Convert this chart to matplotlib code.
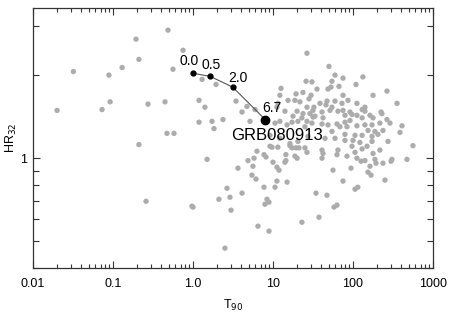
import matplotlib
matplotlib.use("Agg")
import matplotlib.pyplot as plt
from matplotlib.ticker import LogLocator, NullFormatter

plt.rcParams["font.family"] = ["Liberation Sans", "DejaVu Sans"]

# burst sample: T90 (s) and hardness ratio HR32
t90 = [
    0.020, 0.032, 0.073, 0.092, 0.089, 0.130, 0.194, 0.211, 0.211, 0.274,
    0.259, 0.447, 0.473, 0.579, 0.487, 0.562, 0.75, 0.97, 1.30, 1.94,
    1.19, 1.41, 1.19, 1.73, 1.83, 2.37, 1.50, 3.45, 4.10, 4.73,
    5.96, 5.16, 1.00, 2.11, 2.90, 2.99, 2.51, 2.66, 3.65, 4.10,
    4.87, 5.79, 5.62, 6.31, 7.72, 8.18, 5.46, 6.13, 7.72, 6.49,
    8.91, 8.41, 8.91, 7.94, 9.17, 10.6, 11.2, 11.2, 11.9, 10.0,
    15.0, 14.1, 11.5, 14.5, 14.5, 16.3, 17.3, 19.4, 21.1, 18.8,
    20.0, 26.6, 23.0, 34.5, 37.6, 47.3, 57.9, 63.1, 56.2, 75,
    94.4, 106, 115, 126, 154, 168, 163, 194, 251, 299,
    562, 387, 274, 307, 473, 410, 355, 266, 178, 133,
    109, 75, 59.6, 54.6, 50.1, 26.6, 25.9, 30.7, 66.8, 53.1,
    35.5, 23.7, 29.9, 75, 19.4, 48.7, 86.6, 21.7, 26.6, 38.7,
    47.3, 54.6, 72.9, 112, 130, 31.6, 41.0, 23.0, 29.0, 31.6,
    75, 79.4, 91.7, 112, 163, 178, 217, 266, 230, 141,
    15.4, 11.2, 12.2, 18.8, 12.6, 14.1, 20.0, 23.7, 51.6, 64.9,
    97.2, 17.8, 33.5, 42.2, 91.7, 130, 12.2, 17.3, 20.5, 26.6,
    30.7, 41.0, 48.7, 63.1, 79.4, 84.1, 112, 141, 173, 290,
    10.6, 15.0, 25.1, 68.7, 154, 188, 237, 54.6, 79.4, 106,
    130, 173, 205, 9.17, 12.2, 16.3, 20.5, 27.4, 44.7, 59.6,
    79.4, 100, 122, 173, 41.0, 64.9, 97.2, 150, 178, 217,
    9.72, 41.0, 63.1, 84.1, 112, 141, 188, 237, 106, 130,
    42.2, 25.1, 32.5, 59.6, 46.0, 141, 224, 28.2, 11.5,
]
hr32 = [
    1.49, 2.06, 1.50, 1.60, 2.00, 2.13, 2.70, 2.28, 1.12, 1.57,
    0.698, 1.60, 1.23, 1.23, 2.91, 2.10, 2.46, 0.67, 1.93, 1.85,
    1.62, 1.53, 1.35, 1.36, 1.28, 1.38, 0.99, 1.61, 1.47, 1.54,
    1.50, 1.36, 0.665, 0.71, 0.722, 0.648, 0.472, 0.778, 0.92, 0.747,
    0.98, 1.00, 0.935, 1.06, 1.03, 1.01, 0.868, 0.84, 0.785, 0.567,
    0.544, 0.71, 0.693, 0.681, 1.105, 0.785, 0.826, 0.928, 0.905, 0.967,
    0.819, 0.967, 1.096, 1.03, 0.98, 1.11, 1.09, 1.09, 1.09, 1.017,
    1.00, 1.05, 0.586, 0.747, 0.611, 0.734, 0.665, 0.676, 0.905, 0.826,
    0.92, 0.772, 0.785, 0.975, 0.89, 0.868, 0.935, 0.959, 0.833, 0.975,
    1.11, 1.24, 1.15, 0.99, 0.99, 1.31, 1.58, 1.75, 1.69, 1.97,
    1.85, 1.95, 2.00, 1.90, 2.15, 2.40, 1.90, 1.89, 1.82, 1.81,
    1.78, 1.73, 1.69, 1.69, 1.71, 1.78, 1.62, 1.60, 1.53, 1.58,
    1.61, 1.53, 1.58, 1.58, 1.50, 1.49, 1.47, 1.40, 1.45, 1.41,
    1.49, 1.43, 1.47, 1.43, 1.43, 1.40, 1.34, 1.38, 1.45, 1.48,
    1.62, 1.53, 1.69, 1.62, 1.79, 1.48, 1.48, 1.45, 1.49, 1.48,
    1.44, 1.42, 1.42, 1.40, 1.37, 1.40, 1.36, 1.35, 1.36, 1.36,
    1.34, 1.33, 1.32, 1.33, 1.35, 1.30, 1.31, 1.32, 1.32, 1.34,
    1.34, 1.32, 1.30, 1.30, 1.26, 1.25, 1.26, 1.25, 1.22, 1.21,
    1.21, 1.20, 1.22, 1.21, 1.18, 1.13, 1.15, 1.20, 1.18, 1.18,
    1.16, 1.16, 1.14, 1.15, 1.07, 1.07, 1.105, 1.105, 1.04, 1.07,
    1.096, 1.00, 1.03, 1.017, 1.00, 0.98, 0.99, 0.959, 1.05, 1.08,
    1.04, 1.09, 1.53, 1.61, 1.56, 1.53, 1.47, 1.64, 1.58,
]

# GRB080913 evolution with redshift
track_t90 = [1.0, 1.63, 3.13, 8.0]
track_hr = [2.03, 1.98, 1.81, 1.38]
track_labels = ["0.0", "0.5", "2.0", "6.7"]
label_offsets = [(-4, 12), (1, 11), (5, 9), (7, 12)]

x_ticks = [0.01, 0.1, 1.0, 10, 100, 1000]
x_ticklabels = ["0.01", "0.1", "1.0", "10", "100", "1000"]

fig = plt.figure(figsize=(4.5, 3.18), dpi=100)
ax = fig.add_axes([0.0733, 0.1572, 0.8889, 0.8176])

ax.scatter(t90, hr32, s=15, color="#acacac", edgecolors="none", zorder=2)

ax.plot(track_t90, track_hr, color="#555555", lw=0.8, zorder=3)
ax.plot(track_t90[:-1], track_hr[:-1], "o", color="black", ms=3.5, zorder=4)
ax.plot(track_t90[-1:], track_hr[-1:], "o", color="black", ms=6, zorder=4)

for x, y, lab, off in zip(track_t90, track_hr, track_labels, label_offsets):
    ax.annotate(lab, (x, y), xytext=off, textcoords="offset pixels",
                ha="center", va="center", fontsize=10, zorder=5)
ax.annotate("GRB080913", (track_t90[-1], track_hr[-1]), xytext=(12, -16),
            textcoords="offset pixels", ha="center", va="center",
            fontsize=12, zorder=5)

ax.set_xscale("log")
ax.set_yscale("log")
ax.set_xlim(0.01, 1000)
ax.set_ylim(0.4, 3.5)

ax.set_xticks(x_ticks)
ax.set_xticklabels(x_ticklabels)
ax.xaxis.set_minor_locator(LogLocator(base=10, subs=range(2, 10), numticks=20))
ax.xaxis.set_minor_formatter(NullFormatter())
ax.set_yticks([1])
ax.set_yticklabels(["1"])
ax.yaxis.set_minor_locator(LogLocator(base=10, subs=range(2, 10), numticks=20))
ax.yaxis.set_minor_formatter(NullFormatter())

ax.tick_params(which="both", direction="in", top=True, right=True,
               color="#333333", labelsize=9)
ax.tick_params(axis="x", which="both", pad=7)
ax.tick_params(axis="y", which="both", pad=4)
ax.tick_params(which="major", length=5, width=0.8)
ax.tick_params(which="minor", length=3, width=0.8)
ax.tick_params(axis="y", which="minor", length=4)
for sp in ax.spines.values():
    sp.set_color("#333333")
    sp.set_linewidth(0.9)

ax.set_xlabel("T$_{90}$", fontsize=9, labelpad=6)
ax.set_ylabel("HR$_{32}$", fontsize=9, labelpad=1)

fig.savefig("out.png", dpi=100)
